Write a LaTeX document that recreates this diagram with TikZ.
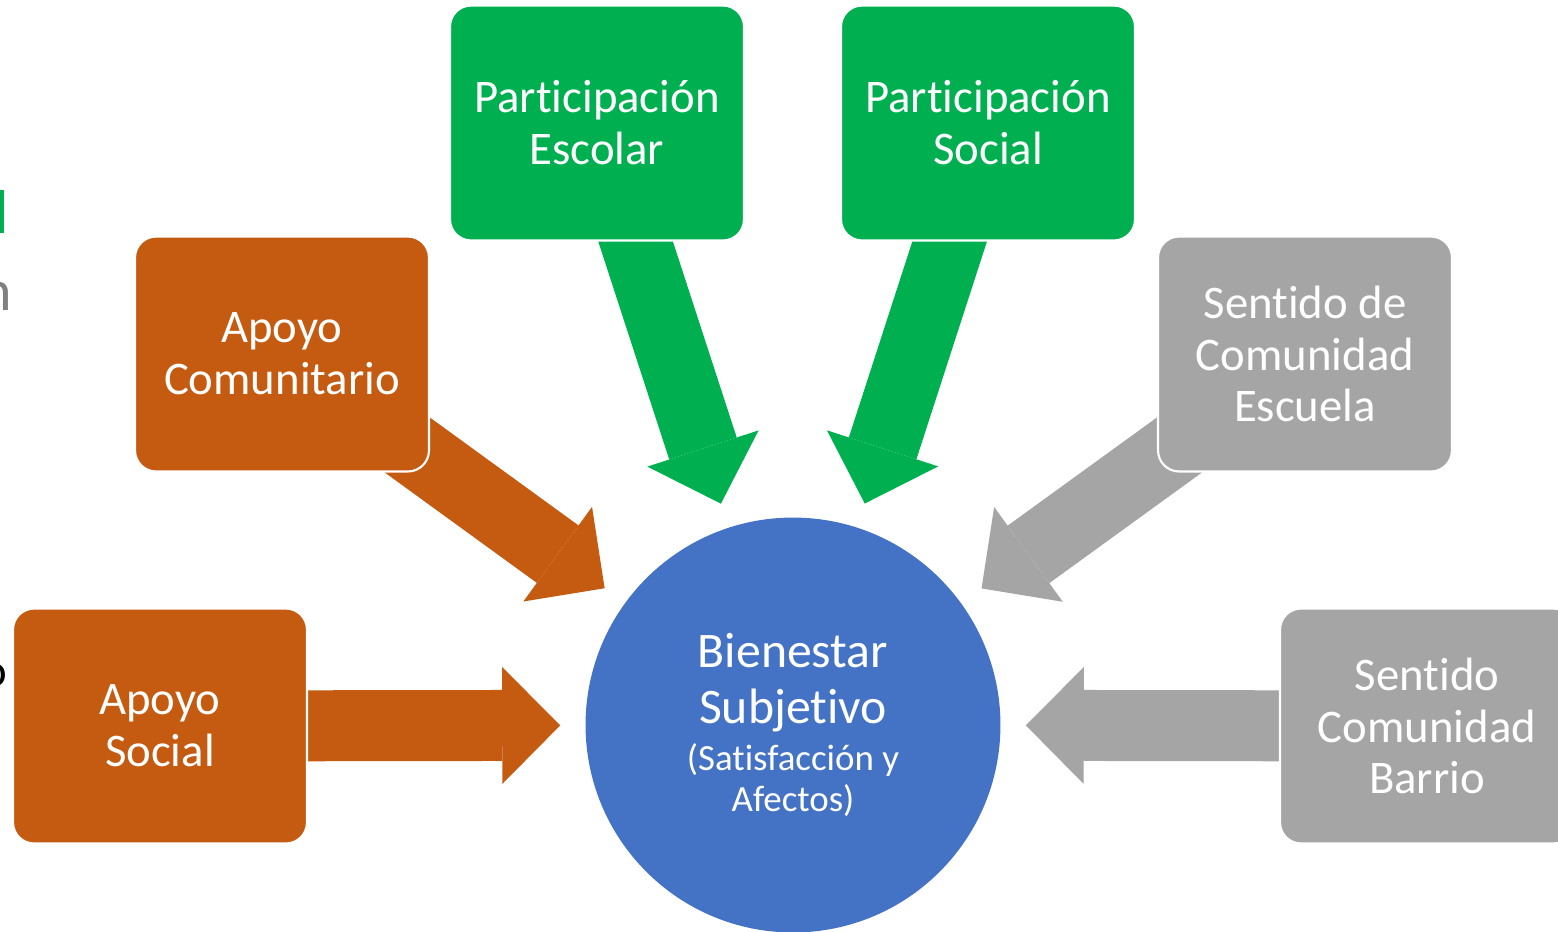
\documentclass[tikz,border=0pt]{standalone}
\usepackage{fontspec}
\setmainfont{Carlito}[Ligatures=NoCommon]
\usepackage{tikz}
\usetikzlibrary{positioning,arrows.meta,backgrounds}
\definecolor{facgreen}{HTML}{00B050}
\definecolor{facorange}{HTML}{C55A11}
\definecolor{facgray}{HTML}{A5A5A5}
\definecolor{facblue}{HTML}{4472C4}
\tikzset{
  facbox/.style={draw=white, line width=1.2pt, rounded corners=12pt, align=center,
    text=white, minimum width=5.88cm, minimum height=4.7cm, inner sep=2pt,
    font=\fontsize{26.6}{29.5}\selectfont},
  facgreenbox/.style={facbox, fill=facgreen},
  facorangebox/.style={facbox, fill=facorange},
  facgraybox/.style={facbox, fill=facgray},
  facarrow/.style={line width=1.42cm, shorten >=0.5cm,
    -{Triangle[length=1.16cm, width=2.34cm, line width=0pt]}},
}

\begin{document}
\begin{tikzpicture}[x=0.02cm, y=-0.02cm]
  \useasboundingbox (0,0) rectangle (1558,931);
  % bits of the slide cut at the left edge
  \begin{scope}
    \clip (0,0) rectangle (1558,931);
    \fill[facgreen] (0,190) rectangle (4,233);
    \node[anchor=base east, inner sep=0pt, text=black!50, font=\fontsize{33}{36}\selectfont] (cutn) at (12,310) {n};
    \node[anchor=base east, inner sep=0pt, text=black, font=\fontsize{26.6}{29.5}\selectfont] (cuto) at (7,686) {o};
  \end{scope}
  % centre
  \node[circle, fill=facblue, minimum size=8.3cm, inner sep=0pt, align=center, text=white,
    font=\fontsize{21}{23.2}\selectfont] (bien) at (793,725)
    {{\fontsize{28.3}{31.7}\selectfont Bienestar}\\[8.5pt]
     {\fontsize{28.3}{31.7}\selectfont Subjetivo}\\[4pt]
     (Satisfacción y\\Afectos)};
  % factors
  \node[facgreenbox] (escolar) at (597,123) {Participación\\Escolar};
  \node[facgreenbox] (social) at (988,123) {Participación\\Social};
  \node[facorangebox] (comun) at (282,354) {Apoyo\\Comunitario};
  \node[facgraybox] (escuela) at (1305,354) {Sentido de\\Comunidad\\Escuela};
  \node[facorangebox] (apoyo) at (160,726) {Apoyo\\Social};
  \node[facgraybox] (barrio) at (1427,726) {Sentido\\Comunidad\\Barrio};
  \begin{scope}[on background layer]
    \draw[facarrow, facgreen] (escolar.center) -- (bien);
    \draw[facarrow, facgreen] (social.center) -- (bien);
    \draw[facarrow, facorange] (comun.center) -- (bien);
    \draw[facarrow, facgray] (escuela.center) -- (bien);
    \draw[facarrow, facorange] (apoyo.center) -- (bien);
    \draw[facarrow, facgray] (barrio.center) -- (bien);
  \end{scope}
\end{tikzpicture}
\end{document}
